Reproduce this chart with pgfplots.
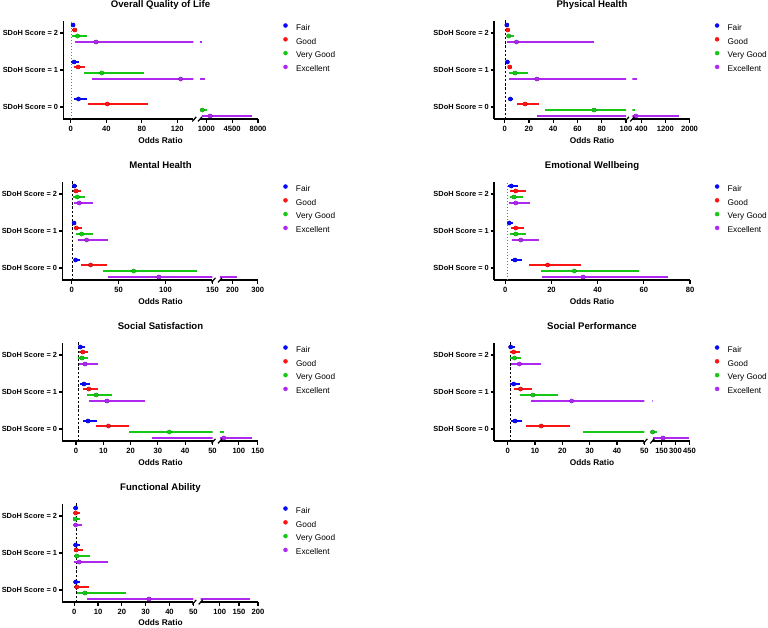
\documentclass[border=0pt]{standalone}
\usepackage{pgfplots}
\pgfplotsset{compat=1.18}
\usepackage{pgfplotstable}
\usepackage{fontspec}
\setmainfont{Liberation Sans}
\definecolor{cF}{RGB}{10,10,250}
\definecolor{cG}{RGB}{250,20,20}
\definecolor{cV}{RGB}{20,200,20}
\definecolor{cE}{RGB}{175,40,240}

% columns: s = SDoH score; F/G/V/E = Fair, Good, Very Good, Excellent; o = odds ratio, l/h = CI
\pgfplotstableread{
s Fo Fl Fh Go Gl Gh Vo Vl Vh Eo El Eh
2 2.5 1.0 5.0 4.5 1.5 7.5 7.5 1.1 18.7 28.4 4.9 380
1 3.7 0.7 9.0 8.2 3.7 16.4 34.8 14.6 81.9 123.7 23.6 850
0 8.6 3.7 18.7 41.1 19.4 86.4 450 230 1130 1515 370 7200
}\tabA
\pgfplotstableread{
s Fo Fl Fh Go Gl Gh Vo Vl Vh Eo El Eh
2 1.8 1.0 3.0 2.5 1.6 3.8 3.3 1.7 7.5 9.7 2.2 73.4
1 2.2 1.1 3.3 4.2 2.5 6.4 8.6 3.9 19.4 26.6 3.3 240
0 4.7 2.8 6.9 16.9 10.0 28.5 73.7 33.0 190 215 26.9 1665
}\tabB
\pgfplotstableread{
s Fo Fl Fh Go Gl Gh Vo Vl Vh Eo El Eh
2 2.8 1.4 6.0 4.6 1.8 9.9 6.0 1.4 14.0 8.1 2.8 23.0
1 2.5 1.1 5.0 5.0 2.5 10.6 10.6 5.0 22.3 15.9 6.4 38.9
0 4.2 2.1 8.8 20.1 10.2 37.1 66.0 32.9 133 92.9 38.9 219
}\tabC
\pgfplotstableread{
s Fo Fl Fh Go Gl Gh Vo Vl Vh Eo El Eh
2 2.6 1.2 5.5 4.5 2.2 8.9 3.8 2.0 7.8 4.5 1.7 10.6
1 1.7 1.0 3.5 4.5 2.5 8.3 4.5 2.2 9.1 6.7 3.0 14.5
0 4.2 2.3 7.4 18.3 10.2 32.8 29.9 15.5 57.8 33.7 16.0 70.5
}\tabD
\pgfplotstableread{
s Fo Fl Fh Go Gl Gh Vo Vl Vh Eo El Eh
2 1.6 0.7 3.2 2.5 1.0 4.5 2.2 0.9 4.5 3.3 1.0 8.1
1 2.9 1.5 5.1 4.7 2.7 8.0 7.4 3.9 13.1 11.4 4.9 25.4
0 4.4 2.5 7.6 11.9 7.2 19.6 34.2 19.5 60 60 28 135
}\tabE
\pgfplotstableread{
s Fo Fl Fh Go Gl Gh Vo Vl Vh Eo El Eh
2 1.1 0.5 2.6 2.2 0.9 4.5 2.5 0.9 5.0 4.3 1.3 12.3
1 2.2 0.9 4.4 4.7 2.3 8.8 9.2 4.5 18.3 23.4 8.7 62
0 2.7 1.3 5.1 12.3 6.7 22.7 53 27.6 105 165 62 443
}\tabF
\pgfplotstableread{
s Fo Fl Fh Go Gl Gh Vo Vl Vh Eo El Eh
2 0.6 0.2 1.4 0.6 0.2 2.3 0.4 0.1 2.4 0.6 0.1 3.2
1 0.6 0.1 2.5 0.8 0.1 3.9 1.1 0.1 6.7 2.1 0.1 14.1
0 0.6 0.1 2.5 1.1 0.1 6.1 4.5 1.1 21.6 31.4 5.3 179
}\tabG

\pgfplotsset{
  dotleg/.style={legend image code/.code={\draw[##1] plot coordinates {(0pt,2.6pt)};}},
  seg/.style={
    scale only axis, height=98.5pt, ymin=-0.32432, ymax=2.33784,
    anchor=south west, clip=true,
    axis x line*=bottom,
    axis line style={line width=1.4pt,-},
    tick align=outside, major tick length=3.5pt,
    tick style={line width=1.2pt, black},
    xticklabel style={font=\bfseries\fontsize{7.6}{9}\selectfont, inner sep=1pt, yshift=-2pt},
    /pgf/number format/assume math mode=true,
    /pgf/number format/1000 sep={},
    scaled x ticks=false,
  },
  lseg/.style={seg, axis y line*=left, ytick={0,1,2},
    yticklabels={{SDoH Score = 0},{SDoH Score = 1},{SDoH Score = 2}},
    yticklabel style={font=\bfseries\fontsize{7.4}{9}\selectfont, inner sep=1.5pt},
    legend cell align=left,
    legend style={anchor=north west, draw=none, fill=none, inner sep=0pt, outer sep=0pt,
      font=\fontsize{8.3}{10}\selectfont, row sep=5.3pt, column sep=8.5pt,
      nodes={inner sep=0pt, text height=6pt, text depth=1.8pt}},
  },
  rseg/.style={seg, axis y line=none, ytick=\empty},
  refgray/.style={forget plot, color=black!55, line width=1.5pt, dash pattern=on 1.6pt off 1.4pt},
  refblack/.style={forget plot, color=black, line width=0.9pt, dash pattern=on 2.4pt off 1.8pt},
}

\newcommand{\ser}[5]{%
  \addplot[only marks, mark=none, forget plot,
    error bars/.cd, x dir=both, x explicit, error mark=none,
    error bar style={line width=1.8pt, draw=#4}]
    table[x=#2o, y expr=\thisrow{s}+#3,
      x error plus expr=\thisrow{#2h}-\thisrow{#2o},
      x error minus expr=\thisrow{#2o}-\thisrow{#2l}] {#1};
  \addplot[only marks, mark=*, mark size=2pt, color=#4, restrict x to domain=#5, dotleg]
    table[x=#2o, y expr=\thisrow{s}+#3] {#1};
}
\newcommand{\four}[2]{%
  \ser{#1}{F}{0.21622}{cF}{#2}
  \ser{#1}{G}{0.08108}{cG}{#2}
  \ser{#1}{V}{-0.08108}{cV}{#2}
  \ser{#1}{E}{-0.24324}{cE}{#2}
}
\newcommand{\brk}[2]{% x, bottom y (pt, downward positive)
  \draw[line width=1.2pt] ({#1-2},{-#2-2.4}) -- ({#1+2},{-#2+2.2});
}

\begin{document}
\begin{tikzpicture}[x=1pt,y=1pt]
\path[use as bounding box] (0,0) rectangle (768,-627);
\clip (0,0) rectangle (768,-627);

\tikzset{ttl/.style={font=\bfseries\fontsize{9.6}{11}\selectfont, anchor=base, inner sep=0pt},
         xl/.style={font=\bfseries\fontsize{8.3}{10}\selectfont, anchor=base, inner sep=0pt}}

% ---------------- Panel 1: Overall Quality of Life
\begin{axis}[lseg, at={(63.3pt,-119pt)}, width=130pt, xmin=-8.5, xmax=138, xtick={0,40,80,120},
  legend style={at={(axis description cs:{(283.5-63.3)/130},0.9695)}}]
  \addplot[refgray] coordinates {(1,-0.33) (1,2.34)};
  \four{\tabA}{-8.5:138}
  \legend{Fair,Good,Very Good,Excellent}
\end{axis}
\begin{axis}[rseg, at={(200pt,-119pt)}, width=58pt, xmin=138, xmax=8000, xtick={1000,4500,8000}]
  \four{\tabA}{138:8000}
\end{axis}
\brk{194.3}{119}\brk{200}{119}
\node[ttl] at (160.5,-7.3) {Overall Quality of Life};
\node[xl] at (160.5,-143.8) {Odds Ratio};

% ---------------- Panel 2: Physical Health
\begin{axis}[lseg, at={(494pt,-119pt)}, width=132pt, xmin=-8.8, xmax=100, xtick={0,20,...,100},
  legend style={at={(axis description cs:{(715.1-494)/132},0.9695)}}]
  \addplot[refblack] coordinates {(1,-0.33) (1,2.34)};
  \four{\tabB}{-8.8:100}
  \legend{Fair,Good,Very Good,Excellent}
\end{axis}
\begin{axis}[rseg, at={(632.3pt,-119pt)}, width=57.2pt, xmin=100, xmax=2000, xtick={400,1200,2000}]
  \four{\tabB}{100:2000}
\end{axis}
\brk{627}{119}\brk{632.3}{119}
\node[ttl] at (592,-7.3) {Physical Health};
\node[xl] at (592,-143.8) {Odds Ratio};

% ---------------- Panel 3: Mental Health
\begin{axis}[lseg, at={(62.3pt,-280pt)}, width=150.2pt, xmin=-10, xmax=150, xtick={0,50,100,150},
  legend style={at={(axis description cs:{(283.5-62.3)/150.2},0.9695)}}]
  \addplot[refblack] coordinates {(1,-0.33) (1,2.34)};
  \four{\tabC}{-10:150}
  \legend{Fair,Good,Very Good,Excellent}
\end{axis}
\begin{axis}[rseg, at={(220pt,-280pt)}, width=37.7pt, xmin=150, xmax=300, xtick={200,300}]
  \four{\tabC}{150:300}
\end{axis}
\brk{213.5}{280}\brk{220}{280}
\node[ttl] at (160.5,-168.3) {Mental Health};
\node[xl] at (160.5,-304.8) {Odds Ratio};

% ---------------- Panel 4: Emotional Wellbeing
\begin{axis}[lseg, at={(494pt,-280pt)}, width=196pt, xmin=-4.9, xmax=80, xtick={0,20,...,80},
  legend style={at={(axis description cs:{(715.1-494)/196},0.9695)}}]
  \addplot[refgray] coordinates {(1,-0.33) (1,2.34)};
  \four{\tabD}{-4.9:80}
  \legend{Fair,Good,Very Good,Excellent}
\end{axis}
\node[ttl] at (592,-168.3) {Emotional Wellbeing};
\node[xl] at (592,-304.8) {Odds Ratio};

% ---------------- Panel 5: Social Satisfaction
\begin{axis}[lseg, at={(62.3pt,-441pt)}, width=150.2pt, xmin=-5, xmax=50, xtick={0,10,...,50},
  legend style={at={(axis description cs:{(283.5-62.3)/150.2},0.9695)}}]
  \addplot[refblack] coordinates {(1,-0.33) (1,2.34)};
  \four{\tabE}{-5:50}
  \legend{Fair,Good,Very Good,Excellent}
\end{axis}
\begin{axis}[rseg, at={(220pt,-441pt)}, width=37.7pt, xmin=50, xmax=150, xtick={100,150}]
  \four{\tabE}{50:150}
\end{axis}
\brk{213.5}{441}\brk{220}{441}
\node[ttl] at (160.5,-329) {Social Satisfaction};
\node[xl] at (160.5,-465.8) {Odds Ratio};

% ---------------- Panel 6: Social Performance
\begin{axis}[lseg, at={(494pt,-441pt)}, width=150.3pt, xmin=-5, xmax=50, xtick={0,10,...,50},
  legend style={at={(axis description cs:{(715.1-494)/150.3},0.9695)}}]
  \addplot[refblack] coordinates {(1,-0.33) (1,2.34)};
  \four{\tabF}{-5:50}
  \legend{Fair,Good,Very Good,Excellent}
\end{axis}
\begin{axis}[rseg, at={(652.3pt,-441pt)}, width=37.2pt, xmin=50, xmax=450, xtick={150,300,450}]
  \four{\tabF}{50:450}
\end{axis}
\brk{645.3}{441}\brk{652.3}{441}
\node[ttl] at (592,-329) {Social Performance};
\node[xl] at (592,-465.8) {Odds Ratio};

% ---------------- Panel 7: Functional Ability
\begin{axis}[lseg, at={(62.3pt,-602pt)}, width=131pt, xmin=-5, xmax=50, xtick={0,10,...,50},
  legend style={at={(axis description cs:{(283.5-62.3)/131},0.9695)}}]
  \addplot[refblack] coordinates {(1,-0.33) (1,2.34)};
  \four{\tabG}{-5:50}
  \legend{Fair,Good,Very Good,Excellent}
\end{axis}
\begin{axis}[rseg, at={(200.7pt,-602pt)}, width=57.3pt, xmin=50, xmax=200, xtick={100,150,200}]
  \four{\tabG}{50:200}
\end{axis}
\brk{194.3}{602}\brk{200.7}{602}
\node[ttl] at (160.5,-490) {Functional Ability};
\node[xl] at (160.5,-625.6) {Odds Ratio};

\end{tikzpicture}
\end{document}
